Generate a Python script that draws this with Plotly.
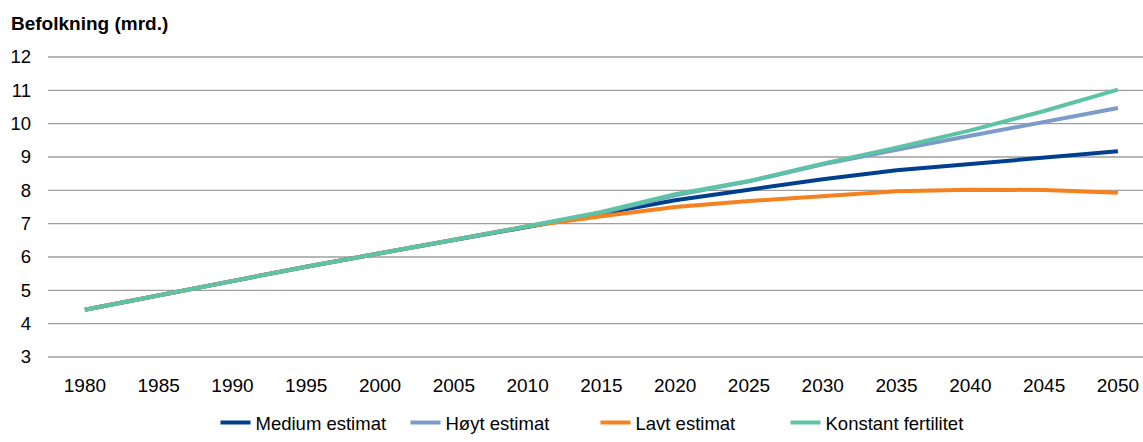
import plotly.graph_objects as go

years = [str(y) for y in range(1980, 2051, 5)]
y_ticks = list(range(3, 13))

# Observed world population 1980-2010 (billions), shared by all scenarios
historical = [4.42, 4.85, 5.30, 5.71, 6.11, 6.50, 6.92]

# Projections 2015-2050 (billions)
medium = [7.30, 7.70, 8.02, 8.33, 8.60, 8.80, 8.98, 9.17]
high = [7.33, 7.85, 8.27, 8.78, 9.22, 9.63, 10.03, 10.47]
low = [7.22, 7.50, 7.68, 7.84, 7.97, 8.02, 8.01, 7.93]
constant = [7.35, 7.88, 8.28, 8.80, 9.28, 9.80, 10.38, 11.02]

series = [
    ("Medium estimat", medium, "#003F8F"),
    ("Høyt estimat", high, "#7B9BC9"),
    ("Lavt estimat", low, "#F5821F"),
    ("Konstant fertilitet", constant, "#5DC3A6"),
]

fig = go.Figure()
for name, proj, color in series:
    fig.add_trace(go.Scatter(
        x=years,
        y=historical + proj,
        mode="lines",
        name=name,
        line=dict(color=color, width=4),
    ))

# horizontal gridlines at every tick, including the outer ones
for v in y_ticks:
    fig.add_shape(
        type="line", xref="paper", yref="y",
        x0=0, x1=1, y0=v, y1=v,
        line=dict(color="#9E9E9E", width=1.3),
        layer="below",
    )

font_family = "Liberation Sans, Arial, sans-serif"
plot_w = 1143 - 48

fig.update_layout(
    width=1143,
    height=442,
    margin=dict(l=48, r=0, t=56, b=84),
    paper_bgcolor="white",
    plot_bgcolor="white",
    font=dict(family=font_family, size=19, color="#000000"),
    showlegend=True,
    legend=dict(
        orientation="h",
        yref="container",
        x=0.5,
        xanchor="center",
        y=-4 / 442,
        yanchor="bottom",
        font=dict(family=font_family, size=18.5),
        itemwidth=30,
        entrywidth=145,
        entrywidthmode="pixels",
        tracegroupgap=0,
    ),
    annotations=[dict(
        text="<b>Befolkning (mrd.)</b>",
        xref="paper", yref="paper",
        x=-39 / plot_w, y=1.0,
        xanchor="left", yanchor="middle",
        yshift=33,
        showarrow=False,
        font=dict(family=font_family, size=19),
    )],
)

fig.update_xaxes(
    type="category",
    range=[-0.5, 14.34],
    showgrid=False,
    showline=False,
    zeroline=False,
    ticks="",
    ticklabelstandoff=14,
    tickfont=dict(size=19),
    automargin=False,
)

fig.update_yaxes(
    range=[2.97, 12.03],
    tickvals=y_ticks,
    showgrid=False,
    zeroline=False,
    showline=False,
    ticks="",
    ticklabelstandoff=16,
    tickfont=dict(size=18.5),
    automargin=False,
)

fig.write_html("out.html")
